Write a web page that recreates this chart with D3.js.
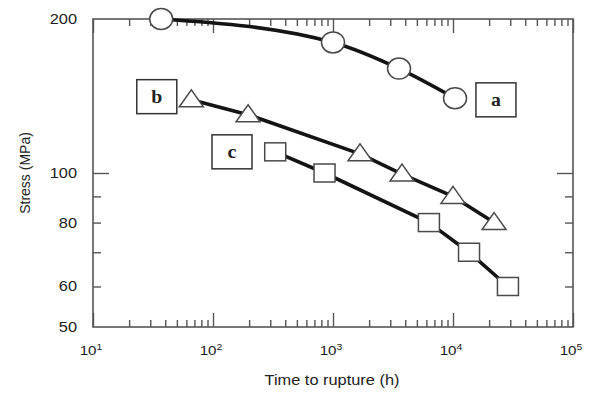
<!DOCTYPE html>
<html>
<head>
<meta charset="utf-8">
<script src="https://cdn.jsdelivr.net/npm/d3@7"></script>
<style>
body { margin: 0; background: #fff; }
</style>
</head>
<body>
<svg id="chart" width="595" height="393"></svg>
<script>
// series data (time in h, stress in MPa)
var timeA = [37, 1000, 3550, 10400];
var stressA = [200, 180, 160, 140];
var timeB = [66, 196, 1680, 3760, 10000, 22000];
var stressB = [139, 130, 109, 99.5, 90, 80];
var timeC = [330, 850, 6300, 13600, 28700];
var stressC = [110, 100, 80, 70, 60];

// axis ticks
var xMajor = [10, 100, 1000, 10000, 100000];
var xExp = [1, 2, 3, 4, 5];
var yLabels = [200, 100, 80, 60, 50];
var yLong = [100];
var yShort = [60, 70, 80, 90];

// annotation boxes, in data coordinates
var boxNames = ['a', 'b', 'c'];
var boxTime = [22800, 34, 144];
var boxStress = [139, 141, 110];

var svg = d3.select('#chart');
var mLeft = 93, mRight = 573, mTop = 19, mBottom = 327;
var x = d3.scaleLog().domain([10, 1e5]).range([mLeft, mRight]);
var y = d3.scaleLog().domain([50, 200]).range([mBottom, mTop]);

var xMinor = [];
xMajor.slice(0, -1).forEach(function (d) {
    for (var k = 2; k < 10; k++) xMinor.push(d * k);
});

var axisColor = '#555';
function styleAxis(g) {
    g.select('.domain').remove();
    g.selectAll('line').attr('stroke', axisColor).attr('stroke-width', 1.4);
}
function addAxis(axis, tr) {
    svg.append('g').attr('transform', tr).call(axis).call(styleAxis);
}
addAxis(d3.axisBottom(x).tickValues(xMajor).tickSize(-14).tickFormat(''), 'translate(0,' + mBottom + ')');
addAxis(d3.axisBottom(x).tickValues(xMinor).tickSize(-7).tickFormat(''), 'translate(0,' + mBottom + ')');
addAxis(d3.axisTop(x).tickValues(xMajor).tickSize(-14).tickFormat(''), 'translate(0,' + mTop + ')');
addAxis(d3.axisTop(x).tickValues(xMinor).tickSize(-7).tickFormat(''), 'translate(0,' + mTop + ')');
addAxis(d3.axisLeft(y).tickValues(yLong).tickSize(-16).tickFormat(''), 'translate(' + mLeft + ',0)');
addAxis(d3.axisLeft(y).tickValues(yShort).tickSize(-8).tickFormat(''), 'translate(' + mLeft + ',0)');
addAxis(d3.axisRight(y).tickValues(yLong).tickSize(-16).tickFormat(''), 'translate(' + mRight + ',0)');
addAxis(d3.axisRight(y).tickValues(yShort).tickSize(-8).tickFormat(''), 'translate(' + mRight + ',0)');

svg.append('rect')
    .attr('x', mLeft).attr('y', mTop)
    .attr('width', mRight - mLeft).attr('height', mBottom - mTop)
    .attr('fill', 'none')
    .attr('stroke', axisColor)
    .attr('stroke-width', 1.6);

var sans = '"Liberation Sans", Arial, Helvetica, sans-serif';
var stretch = 1.17;

// y tick labels
svg.selectAll('.ylab').data(yLabels).enter().append('text')
    .attr('class', 'ylab')
    .attr('transform', function (d) { return 'translate(77,' + (y(d) + 5) + ') scale(' + stretch + ',1)'; })
    .attr('text-anchor', 'end')
    .style('font-family', sans)
    .style('font-size', '14px')
    .style('fill', '#222')
    .text(function (d) { return d; });

// x tick labels with exponent
var xl = svg.selectAll('.xlab').data(xMajor).enter().append('text')
    .attr('class', 'xlab')
    .attr('transform', function (d) { return 'translate(' + (x(d) - 2) + ',355) scale(' + stretch + ',1)'; })
    .attr('text-anchor', 'middle')
    .style('font-family', sans)
    .style('font-size', '13px')
    .style('fill', '#222');
xl.append('tspan').text('10');
xl.append('tspan')
    .attr('dy', -5)
    .style('font-size', '9px')
    .text(function (d, i) { return xExp[i]; });

svg.append('text')
    .attr('transform', 'translate(332,385) scale(' + stretch + ',1)')
    .attr('text-anchor', 'middle')
    .style('font-family', sans)
    .style('font-size', '14px')
    .style('fill', '#222')
    .text('Time to rupture (h)');

svg.append('text')
    .attr('transform', 'translate(30,173) rotate(-90)')
    .attr('text-anchor', 'middle')
    .style('font-family', sans)
    .style('font-size', '14px')
    .style('fill', '#222')
    .text('Stress (MPa)');

// lines
function pts(t, s) { return t.map(function (d, i) { return [d, s[i]]; }); }
var dataA = pts(timeA, stressA), dataB = pts(timeB, stressB), dataC = pts(timeC, stressC);
var lineSmooth = d3.line().x(function (d) { return x(d[0]); }).y(function (d) { return y(d[1]); }).curve(d3.curveMonotoneX);
var lineStraight = d3.line().x(function (d) { return x(d[0]); }).y(function (d) { return y(d[1]); });

[[dataA, lineSmooth], [dataB, lineStraight], [dataC, lineStraight]].forEach(function (p) {
    svg.append('path')
        .attr('d', p[1](p[0]))
        .attr('fill', 'none')
        .attr('stroke', '#141414')
        .attr('stroke-width', 3.6)
        .attr('stroke-linejoin', 'round');
});

var markStroke = '#4a4a4a';
svg.selectAll('.circ').data(dataA).enter().append('ellipse')
    .attr('cx', function (d) { return x(d[0]); })
    .attr('cy', function (d) { return y(d[1]); })
    .attr('rx', 11.5).attr('ry', 10.5)
    .attr('fill', '#fff').attr('stroke', markStroke).attr('stroke-width', 1.5);

svg.selectAll('.tri').data(dataB).enter().append('path')
    .attr('transform', function (d) { return 'translate(' + x(d[0]) + ',' + y(d[1]) + ')'; })
    .attr('d', 'M0,-10L12,7L-12,7Z')
    .attr('fill', '#fff').attr('stroke', markStroke).attr('stroke-width', 1.5);

svg.selectAll('.sq').data(dataC).enter().append('rect')
    .attr('x', function (d) { return x(d[0]) - 10.5; })
    .attr('y', function (d) { return y(d[1]) - 9; })
    .attr('width', 21).attr('height', 18)
    .attr('fill', '#fff').attr('stroke', markStroke).attr('stroke-width', 1.5);

// annotation boxes
var box = svg.selectAll('.box').data(boxNames).enter().append('g')
    .attr('transform', function (d, i) { return 'translate(' + x(boxTime[i]) + ',' + y(boxStress[i]) + ')'; });
box.append('rect')
    .attr('x', -20).attr('y', -17).attr('width', 40).attr('height', 34)
    .attr('fill', '#fff').attr('stroke', '#333').attr('stroke-width', 1.5);
box.append('text')
    .attr('y', 6)
    .attr('text-anchor', 'middle')
    .attr('transform', 'scale(1.1,1)')
    .style('font-family', '"Liberation Serif", "DejaVu Serif", serif')
    .style('font-weight', 'bold')
    .style('font-size', '18px')
    .style('fill', '#222')
    .text(function (d) { return d; });
</script>
</body>
</html>
